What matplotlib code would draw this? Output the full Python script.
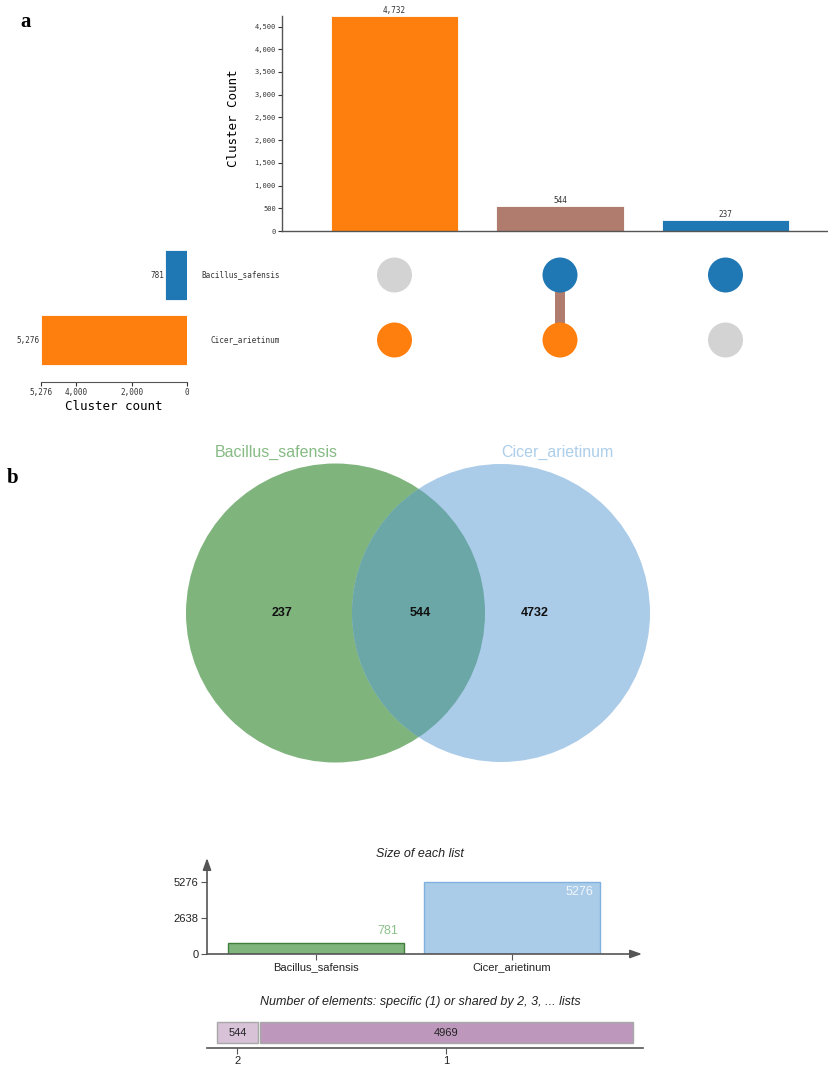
import matplotlib
matplotlib.use("Agg")
import matplotlib.pyplot as plt
import matplotlib.transforms as mtransforms
from matplotlib.patches import Circle

# ---------------- data ----------------
sets = ["Bacillus_safensis", "Cicer_arietinum"]
set_sizes = [781, 5276]
set_size_labels = ["781", "5,276"]
set_colors = ["#1f77b4", "#ff7f0e"]

inter_counts = [4732, 544, 237]
inter_labels = ["4,732", "544", "237"]
inter_colors = ["#ff7f0e", "#b07c6d", "#1f77b4"]
# membership: rows = sets, cols = intersections
membership = [[0, 1, 1],
              [1, 1, 0]]

y_ticks_top = [0, 500, 1000, 1500, 2000, 2500, 3000, 3500, 4000, 4500]
y_ticklabels_top = ["0", "500", "1,000", "1,500", "2,000", "2,500", "3,000", "3,500", "4,000", "4,500"]
left_ticks = [5276, 4000, 2000, 0]
left_ticklabels = ["5,276", "4,000", "2,000", "0"]

venn_only = [237, 4732]
venn_shared = 544

list_sizes = [781, 5276]
list_ticks = [0, 2638, 5276]
shared_counts = [544, 4969]
shared_labels = ["2", "1"]

# ---------------- figure ----------------
W, H = 829, 1067
fig = plt.figure(figsize=(W / 100, H / 100), dpi=100)
MONO = "DejaVu Sans Mono"
SANS = "Liberation Sans"


def ax_px(l, t, w, h):
    return fig.add_axes([l / W, 1 - (t + h) / H, w / W, h / H])


def ftext(x, y, s, **kw):
    fig.text(x / W, 1 - y / H, s, **kw)


# ---- panel letters
ftext(26, 22, "a", fontsize=15, fontweight="bold", family="Liberation Serif", ha="center", va="center")
ftext(13, 478, "b", fontsize=15, fontweight="bold", family="Liberation Serif", ha="center", va="center")

# ---- top intersection bars
spacing = 165.5
axw = 547
x0 = 112.5 / spacing
ax = ax_px(282, 16, axw, 215)
xs = list(range(len(inter_counts)))
ax.bar(xs, inter_counts, width=127 / spacing, color=inter_colors, edgecolor="white", linewidth=0.6)
for x, v, lab in zip(xs, inter_counts, inter_labels):
    ax.text(x, v + 30, lab, ha="center", va="bottom", fontsize=5.5, family=MONO, color="#333333")
ax.set_xlim(-x0, (axw - 112.5) / spacing)
ax.set_ylim(0, 4732)
ax.set_yticks(y_ticks_top)
ax.set_yticklabels(y_ticklabels_top, family=MONO, fontsize=5)
ax.set_xticks([])
ax.tick_params(axis="y", length=3, width=0.8, pad=1.5, colors="#333333")
for s in ["top", "right"]:
    ax.spines[s].set_visible(False)
for s in ["left", "bottom"]:
    ax.spines[s].set_color("#555555")
    ax.spines[s].set_linewidth(1)
ax.set_ylabel("Cluster Count", family=MONO, fontsize=9)
ax.yaxis.set_label_coords((240 - 282) / axw, (231 - 118) / 215)

# ---- matrix
axm = ax_px(282, 240, axw, 135)
axm.set_xlim(-x0, (axw - 112.5) / spacing)
axm.set_ylim(1 + 35 / 65, -35 / 65)
axm.axis("off")
for j in range(len(inter_counts)):
    rows_in = [i for i in range(len(sets)) if membership[i][j]]
    if len(rows_in) > 1:
        axm.plot([j, j], [min(rows_in), max(rows_in)], color=inter_colors[j], lw=7.2, solid_capstyle="butt", zorder=1)
    for i in range(len(sets)):
        c = set_colors[i] if membership[i][j] else "#d3d3d3"
        axm.scatter([j], [i], s=(35 * 0.72) ** 2, color=c, edgecolors="none", zorder=2)

# ---- left set-size bars
axl = ax_px(41, 240, 146, 142)
axl.barh(range(len(sets)), set_sizes, height=50 / 65, color=set_colors, edgecolor="white", linewidth=0.6)
axl.set_xlim(5276, 0)
axl.set_ylim(1 + 42 / 65, -35 / 65)
for i, (v, lab) in enumerate(zip(set_sizes, set_size_labels)):
    axl.text(v + 40, i, lab, ha="right", va="center", fontsize=5.5, family=MONO, color="#333333")
blend = mtransforms.blended_transform_factory(axl.transAxes, axl.transData)
for i, name in enumerate(sets):
    axl.text((280 - 41) / 146, i, name, transform=blend, ha="right", va="center",
             fontsize=5.5, family=MONO, color="#333333")
axl.set_xticks(left_ticks)
axl.set_xticklabels(left_ticklabels, family=MONO, fontsize=5.5)
axl.set_yticks([])
axl.tick_params(axis="x", length=3, width=0.8, pad=1.5, colors="#333333")
for s in ["top", "right", "left"]:
    axl.spines[s].set_visible(False)
axl.spines["bottom"].set_color("#555555")
axl.set_xlabel("Cluster count", family=MONO, fontsize=9, labelpad=2)

# ---- Venn
axv = ax_px(150, 440, 530, 340)
axv.set_xlim(150, 680)
axv.set_ylim(780, 440)
axv.axis("off")
c_green = Circle((335.5, 613), 149.5, color="#80b47d", lw=0)
c_blue = Circle((501, 613), 149, color="#abcce8", lw=0)
axv.add_patch(c_green)
axv.add_patch(c_blue)
c_over = Circle((501, 613), 149, color="#6aa7a6", lw=0)
axv.add_patch(c_over)
c_over.set_clip_path(Circle((335.5, 613), 149.5, transform=axv.transData))
axv.text(282, 613, str(venn_only[0]), ha="center", va="center", fontsize=9, fontweight="bold", family=SANS, color="#111111")
axv.text(420, 613, str(venn_shared), ha="center", va="center", fontsize=9, fontweight="bold", family=SANS, color="#111111")
axv.text(535, 613, str(venn_only[1]), ha="center", va="center", fontsize=9, fontweight="bold", family=SANS, color="#111111")
ftext(276, 452, sets[0], ha="center", va="center", fontsize=11.5, family=SANS, color="#86bb83")
ftext(557, 452, sets[1], ha="center", va="center", fontsize=11.5, family=SANS, color="#acceea")

# ---- Size of each list
axs = ax_px(207, 858, 435, 96)
axs.set_xlim(-109 / 196, 1 + 130 / 196)
axs.set_ylim(0, 5276 * 96 / 72)
bar_fc = ["#80b47d", "#abcce8"]
bar_ec = ["#3f7f3c", "#80b2e0"]
axs.bar([0, 1], list_sizes, width=176 / 196, color=bar_fc, edgecolor=bar_ec, linewidth=1)
axs.text(0 + 88 / 196 - 6 / 196, list_sizes[0] + 500, str(list_sizes[0]), ha="right", va="bottom",
         fontsize=9, family=SANS, color="#8cc08a")
axs.text(1 + 88 / 196 - 7 / 196, list_sizes[1] - 300, str(list_sizes[1]), ha="right", va="top",
         fontsize=9, family=SANS, color="#f2f7fc")
axs.set_xticks([0, 1])
axs.set_xticklabels(sets, family=SANS, fontsize=8, color="#222222")
axs.set_yticks(list_ticks)
axs.set_yticklabels([str(t) for t in list_ticks], family=SANS, fontsize=8, color="#222222")
axs.tick_params(length=4, width=0.8, color="#555555", pad=2)
for s in axs.spines.values():
    s.set_visible(False)
axs.annotate("", xy=(0, 1.0), xytext=(0, 0), xycoords="axes fraction",
             arrowprops=dict(arrowstyle="-|>,head_length=0.7,head_width=0.25", color="#555555", lw=1.2,
                             shrinkA=0, shrinkB=0))
axs.annotate("", xy=(1.0, 0), xytext=(0, 0), xycoords="axes fraction",
             arrowprops=dict(arrowstyle="-|>,head_length=0.7,head_width=0.25", color="#555555", lw=1.2,
                             shrinkA=0, shrinkB=0))
ftext(420, 854, "Size of each list", ha="center", va="center", fontsize=9, style="italic", family=SANS, color="#222222")

# ---- Number of elements shared
ftext(420, 1002, "Number of elements: specific (1) or shared by 2, 3, ... lists", ha="center", va="center",
      fontsize=9, style="italic", family=SANS, color="#222222")
axb = ax_px(207, 1020, 436, 28)
scale = 373 / 4969
axb.set_xlim(-10 / scale, (436 - 10) / scale)
axb.set_ylim(0, 1)
seg_colors = ["#d8c2d8", "#bd98bc"]
lefts = []
acc = 0
for v in shared_counts:
    lefts.append(acc)
    acc += v + 2 / scale
axb.barh([(1048 - 1032.5) / 28] * 2, shared_counts, left=lefts, height=21 / 28,
         color=seg_colors, edgecolor="#a8a8a8", linewidth=1)
centers = []
for l, v in zip(lefts, shared_counts):
    c = l + v / 2
    centers.append(c)
    axb.text(c, (1048 - 1032.5) / 28, str(v), ha="center", va="center", fontsize=8, family=SANS, color="#222222")
axb.set_xticks(centers)
axb.set_xticklabels(shared_labels, family=SANS, fontsize=8, color="#222222")
axb.set_yticks([])
axb.tick_params(axis="x", length=4, width=0.8, color="#555555", pad=2)
for s in ["top", "right", "left"]:
    axb.spines[s].set_visible(False)
axb.spines["bottom"].set_color("#555555")
axb.spines["bottom"].set_linewidth(1.2)

fig.savefig("out.png", dpi=100)
